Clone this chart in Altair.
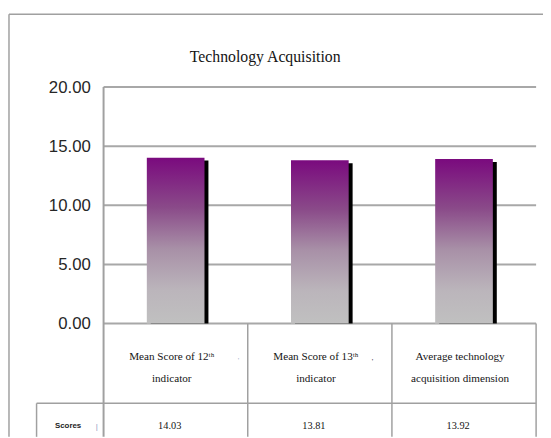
import altair as alt
import pandas as pd

# ---- data ----
categories = ["Mean Score of 12ᵗʰ\nindicator",
              "Mean Score of 13ᵗʰ\nindicator",
              "Average technology\nacquisition dimension"]
scores = [14.03, 13.81, 13.92]
score_labels = ["14.03", "13.81", "13.92"]
y_ticks = [0, 5, 10, 15, 20]
row_header = ["Scores"]
title_text = ["Technology Acquisition"]
boundaries = [1, 2, 3]
stray_glyphs = ["'", "'", "|"]
stray_x = [0.936, 1.866, -0.048]
stray_y = [-3.2, -3.25, -8.75]
stray_colors = ["#9fb0cc", "#333344", "#8c9cc0"]

# ---- layout ----
W, H = 439, 355
PX_PER_UNIT = 12
Y_MIN = -(H - 20 * PX_PER_UNIT) / PX_PER_UNIT
X_HEADER = -68 / (W / 3)
Y_MID = -6.75
Y_LABEL = -2.85
Y_VALUE = -8.65
GRID = "#a8a8a8"
LINE = "#a0a0a0"

df = pd.DataFrame({"cat": categories, "score": scores, "label": score_labels})
df["i"] = range(len(df))

xs = alt.Scale(domain=[0, 3], nice=False, zero=False)
ys = alt.Scale(domain=[Y_MIN, 20], nice=False, zero=False)


def X(v):
    return alt.X(datum=v, scale=xs, axis=None) if not isinstance(v, str) else alt.X(v, scale=xs, axis=None)


def Y(v):
    return alt.Y(datum=v, scale=ys, axis=None) if not isinstance(v, str) else alt.Y(v, scale=ys, axis=None)


one = pd.DataFrame({"a": [0]})
ticks_df = pd.DataFrame({"v": y_ticks})

# gridlines (drawn manually)
grid = alt.Chart(ticks_df).mark_rule(color=GRID, strokeWidth=2).encode(
    x=X(0), x2=alt.X2(datum=3), y=Y("v:Q"))

# left axis line, running down through the table
domain = alt.Chart(one).mark_rule(color=LINE, strokeWidth=2).encode(
    x=X(0), y=Y(20), y2=alt.Y2(datum=Y_MIN))

# tick labels
tick_labels = alt.Chart(ticks_df).transform_calculate(
    lab="format(datum.v, '.2f')").mark_text(
    font="Liberation Sans", fontSize=17, color="#262626", align="right",
    baseline="middle", dx=-13, dy=1).encode(
    x=X(0), y=Y("v:Q"), text="lab:N")

base = alt.Chart(df).transform_calculate(
    x0="datum.i + 0.3", x1="datum.i + 0.7", xc="datum.i + 0.5",
    stop="datum.score - 0.25")

shadow = base.mark_bar(color="black", xOffset=4, x2Offset=4).encode(
    x=X("x0:Q"),
    x2="x1:Q",
    y=Y("stop:Q"),
    y2=alt.Y2(datum=0),
)

gradient = {
    "gradient": "linear", "x1": 0, "y1": 0, "x2": 0, "y2": 1,
    "stops": [
        {"offset": 0.0, "color": "#7a0a7e"},
        {"offset": 0.3, "color": "#8a4a89"},
        {"offset": 0.55, "color": "#a890a7"},
        {"offset": 0.8, "color": "#bbb5bb"},
        {"offset": 1.0, "color": "#c0c0c0"},
    ],
}

bars = base.mark_bar(color=gradient).encode(
    x=X("x0:Q"),
    x2="x1:Q",
    y=Y("score:Q"),
    y2=alt.Y2(datum=0),
)

cat_text = base.mark_text(font="Liberation Serif", fontSize=11.3, color="#141414",
                          lineBreak="\n", lineHeight=22, dx=-4).encode(
    x=X("xc:Q"),
    y=Y(Y_LABEL),
    text="cat:N",
)

val_text = base.mark_text(font="Liberation Serif", fontSize=10.5, color="#141414",
                          dx=-6).encode(
    x=X("xc:Q"),
    y=Y(Y_VALUE),
    text="label:N",
)

hdr = alt.Chart(pd.DataFrame({"t": row_header})).mark_text(
    font="Liberation Sans", fontSize=8, fontWeight="bold", color="#222222",
    dx=-2).encode(
    x=X(X_HEADER / 2),
    y=Y(Y_VALUE),
    text="t:N",
)

stray = alt.Chart(pd.DataFrame({"g": stray_glyphs, "sx": stray_x, "sy": stray_y,
                                "c": stray_colors})).mark_text(
    font="Liberation Sans", fontSize=8).encode(
    x=X("sx:Q"), y=Y("sy:Q"), text="g:N",
    color=alt.Color("c:N", scale=None))

vlines = alt.Chart(pd.DataFrame({"b": boundaries})).mark_rule(
    color=LINE, strokeWidth=1.5).encode(
    x=X("b:Q"),
    y=Y(0),
    y2=alt.Y2(datum=Y_MIN),
)

mid_line = alt.Chart(one).mark_rule(color=LINE, strokeWidth=1.5).encode(
    x=X(X_HEADER), x2=alt.X2(datum=3), y=Y(Y_MID))

hdr_line = alt.Chart(one).mark_rule(color=LINE, strokeWidth=1.5).encode(
    x=X(X_HEADER), y=Y(Y_MID), y2=alt.Y2(datum=Y_MIN))

frame_left = alt.Chart(one).mark_rule(color=LINE, strokeWidth=1.5).encode(
    x=alt.value(-96), y=alt.value(-74), y2=alt.value(H))

frame_top = alt.Chart(one).mark_rule(color=LINE, strokeWidth=1.5).encode(
    x=alt.value(-96), x2=alt.value(W + 10), y=alt.value(-74))

title = alt.Chart(pd.DataFrame({"t": title_text})).mark_text(
    font="Liberation Serif", fontSize=16, color="#141414",
    baseline="alphabetic").encode(
    x=alt.value(164), y=alt.value(-25), text="t:N")

chart = alt.layer(
    grid, domain, tick_labels, shadow, bars, vlines, mid_line, hdr_line,
    cat_text, val_text, hdr, stray, frame_left, frame_top, title,
).properties(
    width=W, height=H,
    padding={"left": 97, "top": 77, "right": 7, "bottom": 0},
    autosize=alt.AutoSizeParams(type="none"),
    background="white",
).configure_view(stroke=None)

chart.save("out.html", embed_options={"renderer": "svg", "actions": False})
